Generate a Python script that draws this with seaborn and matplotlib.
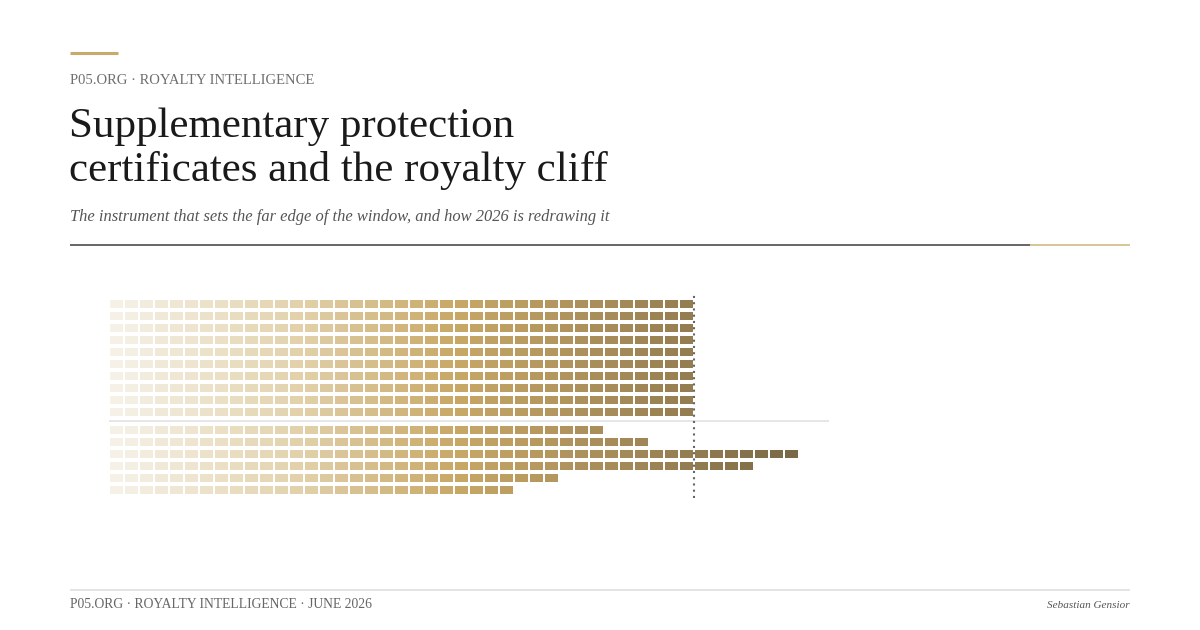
import numpy as np
import pandas as pd
import seaborn as sns
import matplotlib.pyplot as plt
from matplotlib.path import Path
from matplotlib.lines import Line2D
from matplotlib.colors import LinearSegmentedColormap

# blocks per row: reference band (10 identical rows) and six individual rows
band_counts = [39, 39, 39, 39, 39, 39, 39, 39, 39, 39]
case_counts = [33, 36, 46, 43, 30, 27]
cliff_col = 39

header = "P05.ORG · ROYALTY INTELLIGENCE"
title = "Supplementary protection\ncertificates and the royalty cliff"
subtitle = "The instrument that sets the far edge of the window, and how 2026 is redrawing it"
footer = "P05.ORG · ROYALTY INTELLIGENCE · JUNE 2026"
author = "Sebastian Gensior"

sns.set_theme(style="white")
plt.rcParams['font.family'] = ['Liberation Serif', 'DejaVu Serif']

W, H = 1200, 630
fig = plt.figure(figsize=(W / 100, H / 100), dpi=100)


def fx(px):
    return px / W


def fy(py):
    return 1 - py / H


def hline(x0, x1, y, color, lw):
    fig.add_artist(Line2D([fx(x0), fx(x1)], [fy(y), fy(y)], color=color, lw=lw,
                          solid_capstyle='butt', transform=fig.transFigure))


# header decorations
hline(70, 118, 52.5, '#c8aa6a', 2.2)
fig.text(fx(70), fy(80), header, fontsize=10.5, color='#6f6f6f', va='center', ha='left')
fig.text(fx(69), fy(107), title, fontsize=31, color='#1a1a1a', va='top', ha='left',
         linespacing=1.2)
fig.text(fx(70), fy(217), subtitle, fontsize=11.9, color='#555555', style='italic',
         va='center', ha='left')
hline(70, 1030, 245, '#666666', 1.4)
hline(1030, 1130, 245, '#d8c594', 1.4)

# footer
hline(70, 1130, 590, '#dddddd', 1.1)
fig.text(fx(70), fy(605), footer, fontsize=9.8, color='#666666', va='center', ha='left')
fig.text(fx(1130), fy(605), author, fontsize=8, color='#555555', style='italic',
         va='center', ha='right')

# build tidy table of blocks
rows = []
for r, n in enumerate(band_counts):
    for c in range(n):
        rows.append({"row": r, "col": c})
offset = len(band_counts) + 0.5
for i, n in enumerate(case_counts):
    for c in range(n):
        rows.append({"row": offset + i, "col": c})
df = pd.DataFrame(rows)

ncols = 48
ax = fig.add_axes([fx(109), fy(498), fx(109 + 15 * ncols) - fx(109), (498 - 292) / H])
cmap = LinearSegmentedColormap.from_list(
    "gold", ['#f5f1e7', '#e4d4b0', '#c8a867', '#a58a58', '#7a6946'])
rect = Path([(-13, -8), (13, -8), (13, 8), (-13, 8), (-13, -8)],
            [Path.MOVETO, Path.LINETO, Path.LINETO, Path.LINETO, Path.CLOSEPOLY])
sns.scatterplot(data=df, x="col", y="row", hue="col", palette=cmap,
                hue_norm=(0, max(case_counts) - 1), marker=rect, s=(13 * 0.72) ** 2,
                linewidth=0, legend=False, ax=ax)

ax.axhline(len(band_counts) - 0.25, color='#e2e2e2', lw=1.2, zorder=0)
ax.axvline(cliff_col - 0.5, color='#666666', lw=1.5, ls=(0, (1, 2)))
ax.set_xlim(-0.5, ncols - 0.5)
ax.set_ylim(offset + len(case_counts) - 1 + 0.67, -1)
ax.axis('off')

fig.savefig("out.png", dpi=100)
